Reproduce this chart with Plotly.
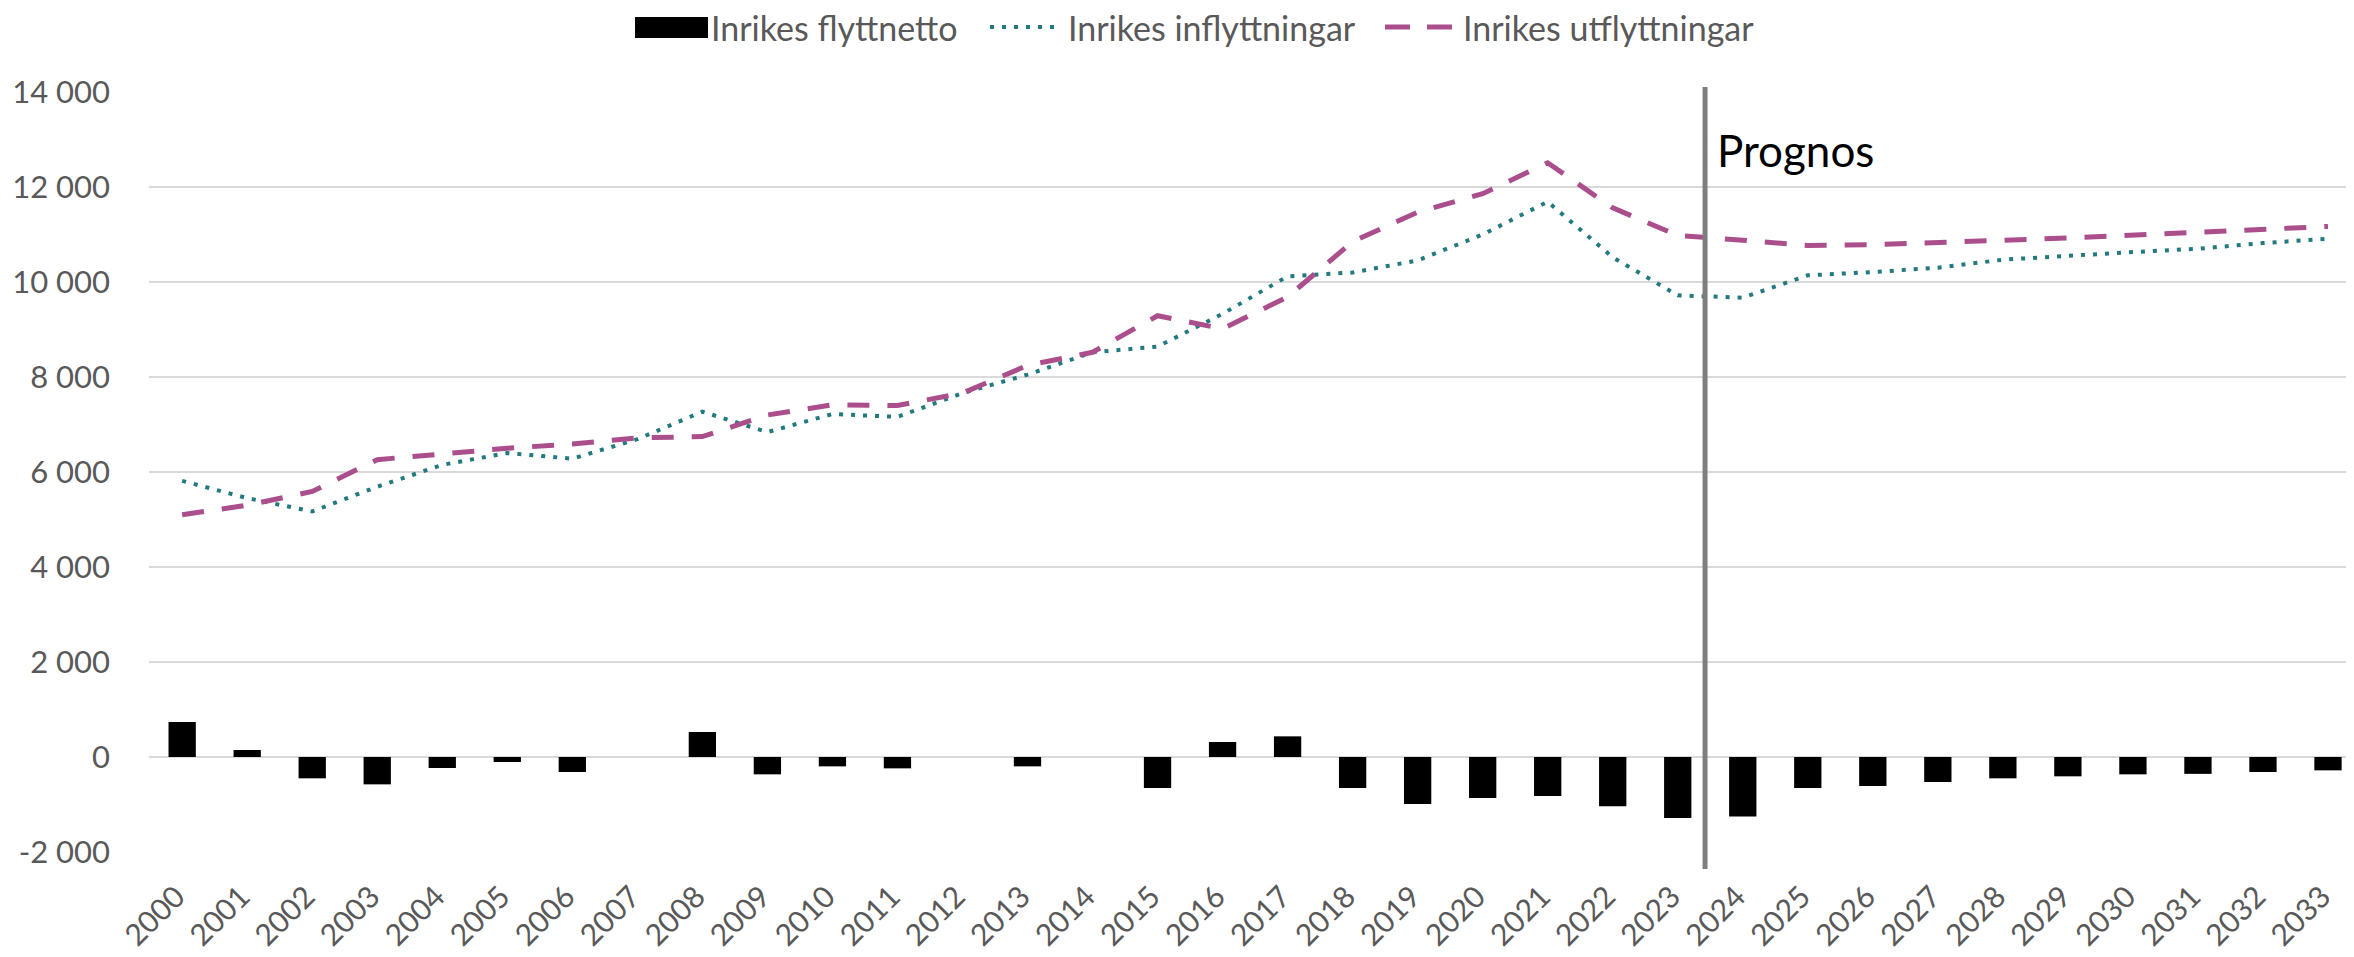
import plotly.graph_objects as go

years = list(range(2000, 2034))
year_labels = [str(y) for y in years]

netto = [737, 147, -449, -576, -232, -105, -316, 0, 527, -365, -197, -239, 0, -197, 0,
         -653, 316, 435, -653, -990, -863, -821, -1039, -1285, -1250, -653, -611, -527,
         -449, -407, -365, -355, -316, -281]
inflytt = [5814, 5450, 5170, 5690, 6150, 6400, 6280, 6690, 7270, 6840, 7220, 7160, 7660,
           8050, 8520, 8640, 9330, 10120, 10200, 10455, 11000, 11690, 10520, 9720, 9670,
           10140, 10210, 10300, 10470, 10560, 10630, 10700, 10820, 10910]
utflytt = [5100, 5300, 5590, 6260, 6380, 6500, 6590, 6720, 6745, 7200, 7415, 7400, 7660,
           8245, 8520, 9290, 9015, 9685, 10850, 11470, 11860, 12510, 11560, 10980, 10880,
           10770, 10785, 10820, 10880, 10925, 10980, 11040, 11090, 11170]

series_names = ["Inrikes flyttnetto", "Inrikes inflyttningar", "Inrikes utflyttningar"]

y_ticks = [-2000, 0, 2000, 4000, 6000, 8000, 10000, 12000, 14000]
y_labels = ["-2 000", "0", "2 000", "4 000", "6 000", "8 000", "10 000", "12 000", "14 000"]

FONT = "Lato, 'Open Sans', sans-serif"
GRAY = "#595959"
TEAL = "#22797e"
MAGENTA = "#ab4f8c"

# page body has an 8px margin, so the figure is 8px smaller in each direction
W, H = 2346, 949
T, B, L = 84, 105, 141
plot_w = W - L
plot_h = H - T - B


def px(x_page):
    return (x_page - 8 - L) / plot_w


def py(y_page):
    return 1 - (y_page - 8 - T) / plot_h


fig = go.Figure()
fig.add_trace(go.Bar(x=years, y=netto, name=series_names[0], marker_color="black",
                     width=0.42, marker_line_width=0))
fig.add_trace(go.Scatter(x=years, y=inflytt, name=series_names[1], mode="lines",
                         line=dict(color=TEAL, width=4, dash="4px,8px")))
fig.add_trace(go.Scatter(x=years, y=utflytt, name=series_names[2], mode="lines",
                         line=dict(color=MAGENTA, width=5, dash="22px,18px")))

# vertical forecast divider
fig.add_shape(type="line", xref="x", yref="paper", x0=2023.42, x1=2023.42,
              y0=-17 / plot_h, y1=1 + 5 / plot_h,
              line=dict(color="#7f7f7f", width=5))
fig.add_annotation(x=2023.42, xref="x", y=1 - 58 / plot_h, yref="paper", text="Prognos",
                   showarrow=False, xanchor="left", yanchor="middle", xshift=10,
                   font=dict(family=FONT, size=44, color="black"))

# legend (drawn to match the original's wide keys)
LEG_Y = 27
fig.add_shape(type="rect", xref="paper", yref="paper", x0=px(635), x1=px(708),
              y0=py(38), y1=py(17), fillcolor="black", line=dict(width=0))
fig.add_shape(type="line", xref="paper", yref="paper", x0=px(990), x1=px(1060),
              y0=py(LEG_Y), y1=py(LEG_Y), line=dict(color=TEAL, width=4, dash="4px,8px"))
fig.add_shape(type="line", xref="paper", yref="paper", x0=px(1385), x1=px(1452),
              y0=py(LEG_Y), y1=py(LEG_Y), line=dict(color=MAGENTA, width=5, dash="25px,17px"))
for name, x_left in zip(series_names, [709, 1066, 1461]):
    fig.add_annotation(x=px(x_left), xref="paper", y=py(LEG_Y), yref="paper", text=name,
                       showarrow=False, xanchor="left", yanchor="middle",
                       font=dict(family=FONT, size=34, color=GRAY))

fig.update_layout(
    width=W, height=H,
    margin=dict(l=L, r=0, t=T, b=B, autoexpand=False),
    plot_bgcolor="white", paper_bgcolor="white",
    font=dict(family=FONT, color=GRAY, size=30),
    barmode="relative",
    showlegend=False,
    xaxis=dict(range=[1999.49, 2033.4], tickmode="array", tickvals=years, ticktext=year_labels,
               tickangle=-45, showgrid=False, zeroline=False, showline=False, ticks="",
               ticklabelstandoff=20, ticklabelshift=-6, automargin=False,
               tickfont=dict(family=FONT, size=30, color=GRAY)),
    yaxis=dict(range=[-2000, 14000], tickmode="array", tickvals=y_ticks, ticktext=y_labels,
               showgrid=True, gridcolor="#d9d9d9", gridwidth=1.5, zeroline=False,
               showline=False, ticks="", ticklabelstandoff=38, automargin=False,
               tickfont=dict(family=FONT, size=31, color=GRAY)),
)

fig.write_html("out.html")
